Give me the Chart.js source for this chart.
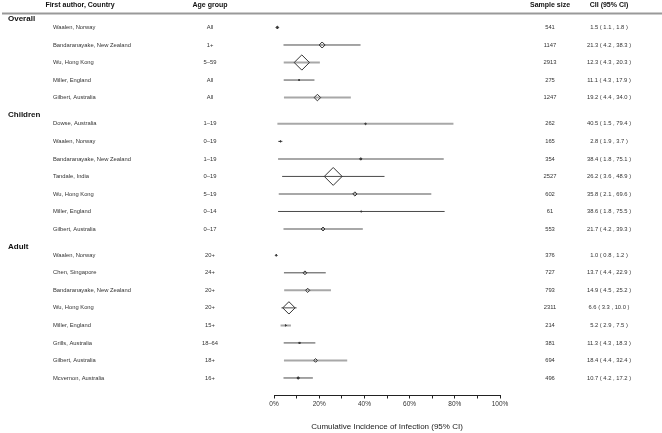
<!DOCTYPE html>
<html>
<head>
<meta charset="utf-8">
<script src="https://cdn.jsdelivr.net/npm/chart.js@4"></script>
<style>
  html, body { margin: 0; padding: 0; background: #fff; }
  #wrap { width: 662px; height: 433px; position: relative; }
</style>
</head>
<body>
<div id="wrap"><canvas id="forest"></canvas></div>
<script>
const groups = ['Overall', 'Children', 'Adult'];
const groupOf = [0, 0, 0, 0, 0, 1, 1, 1, 1, 1, 1, 1, 2, 2, 2, 2, 2, 2, 2, 2];
const authors = [
  'Waalen, Norway', 'Bandaranayake, New Zealand', 'Wu, Hong Kong', 'Miller, England', 'Gilbert, Australia',
  'Dowse, Australia', 'Waalen, Norway', 'Bandaranayake, New Zealand', 'Tandale, India', 'Wu, Hong Kong', 'Miller, England', 'Gilbert, Australia',
  'Waalen, Norway', 'Chen, Singapore', 'Bandaranayake, New Zealand', 'Wu, Hong Kong', 'Miller, England', 'Grills, Australia', 'Gilbert, Australia', 'Mcvernon, Australia'
];
const ageGroups = [
  'All', '1+', '5\u201359', 'All', 'All',
  '1\u201319', '0\u201319', '1\u201319', '0\u201319', '5\u201319', '0\u201314', '0\u201317',
  '20+', '24+', '20+', '20+', '15+', '18\u201364', '18+', '16+'
];
const sampleSize = [541, 1147, 2913, 275, 1247, 262, 165, 354, 2527, 602, 61, 553, 376, 727, 793, 2311, 214, 381, 694, 496];
const cii   = [1.5, 21.3, 12.3, 11.1, 19.2, 40.5, 2.8, 38.4, 26.2, 35.8, 38.6, 21.7, 1.0, 13.7, 14.9, 6.6, 5.2, 11.3, 18.4, 10.7];
const lower = [1.1, 4.2, 4.3, 4.3, 4.4, 1.5, 1.9, 1.8, 3.6, 2.1, 1.8, 4.2, 0.8, 4.4, 4.5, 3.3, 2.9, 4.3, 4.4, 4.2];
const upper = [1.8, 38.3, 20.3, 17.9, 34.0, 79.4, 3.7, 75.1, 48.9, 69.6, 75.5, 39.3, 1.2, 22.9, 25.2, 10.0, 7.5, 18.3, 32.4, 17.2];
const xTicks = [0, 10, 20, 30, 40, 50, 60, 70, 80, 90, 100];

// row layout: group header half a row above its first study
const rowY = [];
const headerY = [];
let pos = -0.5;
let prev = -1;
groupOf.forEach(function(g) {
  if (g !== prev) {
    pos += (prev === -1) ? 0 : 1;
    headerY.push(pos);
    pos += 0.5;
    prev = g;
  } else {
    pos += 1;
  }
  rowY.push(pos);
});

// marker size from each study's share of its group's sample
const groupTotal = groups.map(function(_, g) {
  let s = 0;
  for (let i = 0; i < sampleSize.length; i++) if (groupOf[i] === g) s += sampleSize[i];
  return s;
});
const radii = sampleSize.map(function(n, i) { return Math.max(0.8, 16 * n / groupTotal[groupOf[i]]); });

// alternate light/dark CI lines inside each group
const datasets = [];
let k = 0;
for (let i = 0; i < authors.length; i++) {
  if (i > 0 && groupOf[i] !== groupOf[i - 1]) k = 0;
  const light = (k % 2 === 0);
  datasets.push({
    type: 'line',
    data: [{ x: lower[i], y: rowY[i] }, { x: upper[i], y: rowY[i] }],
    borderColor: light ? '#a8a8a8' : '#4a4a4a',
    borderWidth: light ? 2 : 1,
    pointRadius: 0,
    order: 2
  });
  k++;
}
datasets.push({
  type: 'scatter',
  data: cii.map(function(v, i) { return { x: v, y: rowY[i] }; }),
  pointStyle: 'rectRot',
  pointRadius: radii,
  pointBackgroundColor: radii.map(function(r) { return r < 1.6 ? '#333333' : 'rgba(255,255,255,0)'; }),
  pointBorderColor: '#333333',
  pointBorderWidth: 1,
  order: 1
});

const fam = '"Liberation Sans", Arial, sans-serif';
const textFont = '5.8px ' + fam;
const headFont = 'bold 7px ' + fam;
const groupFont = 'bold 8px ' + fam;

const tablePlugin = {
  id: 'table',
  afterDraw(chart) {
    const c = chart.ctx;
    const y = chart.scales.y;
    c.save();
    c.textBaseline = 'middle';
    // column headers
    c.font = headFont;
    c.fillStyle = '#111';
    c.textAlign = 'center';
    c.fillText('First author, Country', 80, 5.5);
    c.fillText('Age group', 210, 5.5);
    c.fillText('Sample size', 550, 5.5);
    c.fillText('CII (95% CI)', 609, 5.5);
    c.strokeStyle = '#999';
    c.lineWidth = 2;
    c.beginPath();
    c.moveTo(2, 13.5);
    c.lineTo(662, 13.5);
    c.stroke();
    // group labels
    c.font = groupFont;
    c.textAlign = 'left';
    groups.forEach(function(g, j) {
      c.fillText(g, 8, y.getPixelForValue(headerY[j]));
    });
    // study rows
    c.font = textFont;
    c.fillStyle = '#333';
    for (let i = 0; i < authors.length; i++) {
      const py = y.getPixelForValue(rowY[i]);
      c.textAlign = 'left';
      c.fillText(authors[i], 53, py);
      c.textAlign = 'center';
      c.fillText(ageGroups[i], 210, py);
      c.fillText(String(sampleSize[i]), 550, py);
      c.fillText(cii[i].toFixed(1) + ' ( ' + lower[i].toFixed(1) + ' , ' + upper[i].toFixed(1) + ' )', 609, py);
    }
    c.restore();
  }
};

new Chart(document.getElementById('forest'), {
  data: { datasets: datasets },
  options: {
    responsive: true,
    maintainAspectRatio: false,
    animation: false,
    layout: { padding: { left: 274, right: 162, top: 9.5, bottom: 0 } },
    plugins: {
      legend: { display: false },
      tooltip: { enabled: false }
    },
    scales: {
      x: {
        type: 'linear',
        min: 0,
        max: 100,
        afterBuildTicks(scale) {
          scale.ticks = xTicks.map(function(v) { return { value: v }; });
        },
        afterFit(scale) { scale.height = 37.5; },
        grid: { drawOnChartArea: false, drawTicks: true, tickLength: 3, color: '#222' },
        border: { display: true, color: '#222', width: 1 },
        ticks: {
          autoSkip: false,
          maxRotation: 0,
          padding: 2,
          color: '#333',
          font: { family: fam, size: 6.5 },
          callback: function(value) { return value % 20 === 0 ? value + '%' : ''; }
        },
        title: {
          display: true,
          text: 'Cumulative Incidence of Infection (95% CI)',
          color: '#222',
          font: { family: fam, size: 8 },
          padding: { top: 0, bottom: 1 }
        }
      },
      y: {
        type: 'linear',
        display: false,
        reverse: true,
        min: -1,
        max: 21
      }
    }
  },
  plugins: [tablePlugin]
});
</script>
</body>
</html>
